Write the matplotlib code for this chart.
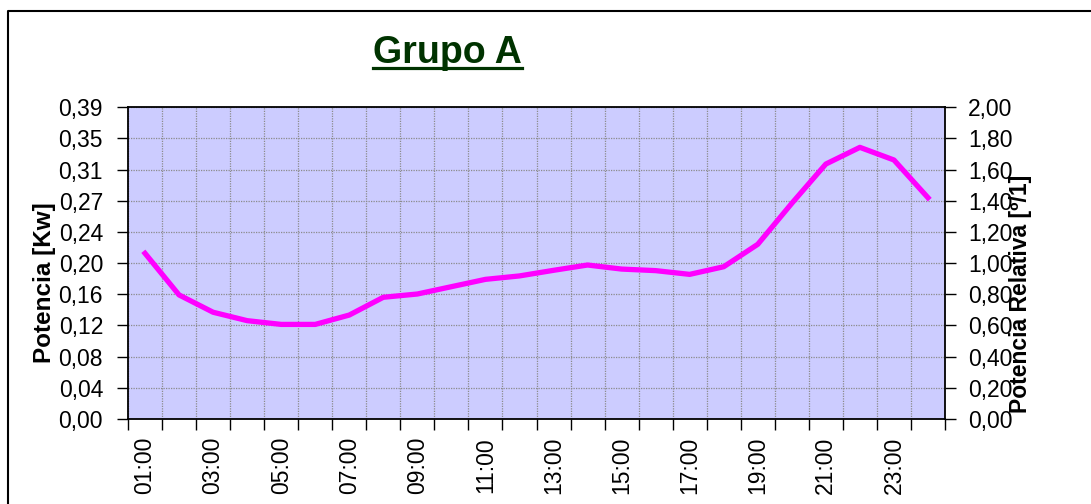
import numpy as np
import matplotlib.pyplot as plt
from matplotlib.lines import Line2D
from matplotlib.ticker import FixedLocator, FuncFormatter

# ---------------------------------------------------------------
# data
# ---------------------------------------------------------------
horas = ["%02d:00" % h for h in range(1, 25)]
potencia_rel = [1.063, 0.796, 0.685, 0.631, 0.607, 0.607, 0.667, 0.781,
                0.802, 0.849, 0.896, 0.918, 0.954, 0.988, 0.962, 0.952,
                0.928, 0.977, 1.121, 1.384, 1.636, 1.743, 1.662, 1.420]
kw_base = 0.196          # potencia media [Kw] -> 1,00 relativo
rel_ticks = [0.0, 0.2, 0.4, 0.6, 0.8, 1.0, 1.2, 1.4, 1.6, 1.8, 2.0]

plt.rcParams['font.family'] = ['Liberation Sans', 'DejaVu Sans']

W, H = 1091, 504
fig = plt.figure(figsize=(W / 100, H / 100), dpi=100)

x0, x1, y0, y1 = 128, 945, 107.3, 419
ax = fig.add_axes([x0 / W, 1 - y1 / H, (x1 - x0) / W, (y1 - y0) / H])
ax.set_facecolor('#CCCCFF')

n = len(horas)
x = np.arange(n)
ax.set_xlim(-0.5, n - 0.5)
ax.set_ylim(0, 2.0 * kw_base)

# grid at category boundaries, labels at centres of odd hours
ax.xaxis.set_major_locator(FixedLocator(np.arange(n + 1) - 0.5))
ax.xaxis.set_major_formatter(FuncFormatter(lambda v, p: ""))
ax.xaxis.set_minor_locator(FixedLocator(x[::2]))
ax.set_xticklabels(horas[::2], minor=True, rotation=90, fontsize=16.5)
ax.tick_params(axis='x', which='major', direction='out', length=8, width=1)
ax.tick_params(axis='x', which='minor', length=0, pad=13)

kw_ticks = [t * kw_base for t in rel_ticks]
ax.set_yticks(kw_ticks)
ax.set_yticklabels([("%.2f" % t).replace('.', ',') for t in kw_ticks], fontsize=16.5)
ax.tick_params(axis='y', direction='out', length=8, width=1, pad=10)

ax.grid(True, which='major', color='#8c8c8c', linestyle=(0, (1, 1)), linewidth=0.9)
ax.set_axisbelow(True)
for s in ['top', 'right']:
    ax.spines[s].set_visible(False)
for s in ['left', 'bottom']:
    ax.spines[s].set_linewidth(1.3)

ax2 = ax.twinx()
ax2.set_ylim(0, 2.0)
ax2.set_yticks(rel_ticks)
ax2.set_yticklabels([("%.2f" % t).replace('.', ',') for t in rel_ticks], fontsize=16.5)
ax2.tick_params(axis='y', direction='out', length=8, width=1, pad=8.5)
for s in ['top', 'left', 'bottom']:
    ax2.spines[s].set_visible(False)
ax2.spines['right'].set_linewidth(1.3)
ax2.plot(x, potencia_rel, color='#FF00FF', linewidth=3.8, solid_joinstyle='round')

# top border line of the plot area
ax.plot([0, 1], [1, 1], transform=ax.transAxes, color='black', lw=1.3, clip_on=False)

# axis titles (Excel style, sitting close to the tick labels)
fig.text(45 / W, 1 - 283 / H, "Potencia [Kw]", rotation=90, fontsize=17.5,
         fontweight='bold', ha='center', va='center')
fig.text(1021 / W, 1 - 294 / H, "Potencia Relativa [º/1]", rotation=90, fontsize=16.5,
         fontweight='bold', ha='center', va='center')

# title, underlined
fig.text(447.5 / W, 1 - 62.7 / H, "Grupo A", fontsize=27, fontweight='bold',
         color='#003300', ha='center', va='baseline')
fig.add_artist(Line2D([373 / W, 522 / W], [1 - 67.7 / H] * 2, color='#003300', lw=2.3))

# chart frame (left and top visible)
fig.add_artist(Line2D([7.5 / W, 7.5 / W, 1.0], [0.0, 1 - 10.5 / H, 1 - 10.5 / H],
                      color='black', lw=1.5))

fig.savefig("out.png", dpi=100)
